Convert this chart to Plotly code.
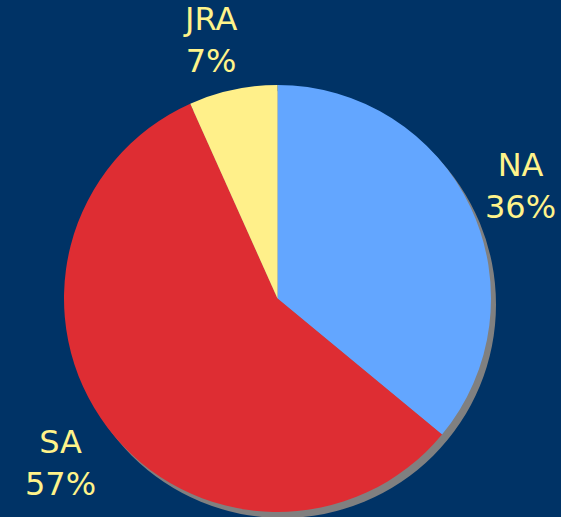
import plotly.graph_objects as go

labels = ["NA", "SA", "JRA"]
values = [36.0, 57.3, 6.7]
colors = ["#63A6FF", "#DE2D33", "#FFF08A"]
label_pos = {"NA": (520, 186), "SA": (60, 463), "JRA": (210, 40)}

W, H = 561, 517
cx, cy, r = 277.5, 298.5, 213.5
sdx, sdy = 5, 6

def dom(cx, cy, r):
    return dict(x=[(cx - r) / W, (cx + r) / W], y=[(H - cy - r) / H, (H - cy + r) / H])

fig = go.Figure()
fig.add_trace(go.Pie(values=values, labels=labels, marker=dict(colors=colors, line=dict(width=0)),
                     domain=dom(cx, cy, r), textinfo="none", sort=False, direction="clockwise",
                     rotation=0, showlegend=False))

# drop shadow
fig.add_shape(type="circle", xref="paper", yref="paper", layer="below",
              x0=(cx + sdx - r) / W, x1=(cx + sdx + r) / W,
              y0=(H - cy - sdy - r) / H, y1=(H - cy - sdy + r) / H,
              fillcolor="#808080", line=dict(width=0))

total = sum(values)
for lab, v in zip(labels, values):
    px, py = label_pos[lab]
    fig.add_annotation(x=px / W, y=1 - py / H, xref="paper", yref="paper", showarrow=False,
                       text=f"{lab}<br>{round(100 * v / total)}%", xanchor="center", yanchor="middle",
                       font=dict(family="DejaVu Sans", size=32, color="#FFF38A"), align="center")

fig.update_layout(width=W, height=H, margin=dict(l=0, r=0, t=0, b=0),
                  paper_bgcolor="#003366", plot_bgcolor="#003366")
fig.write_html("out.html", config={"displayModeBar": False},
               post_script="document.body.style.margin='0';document.body.style.overflow='hidden';")
